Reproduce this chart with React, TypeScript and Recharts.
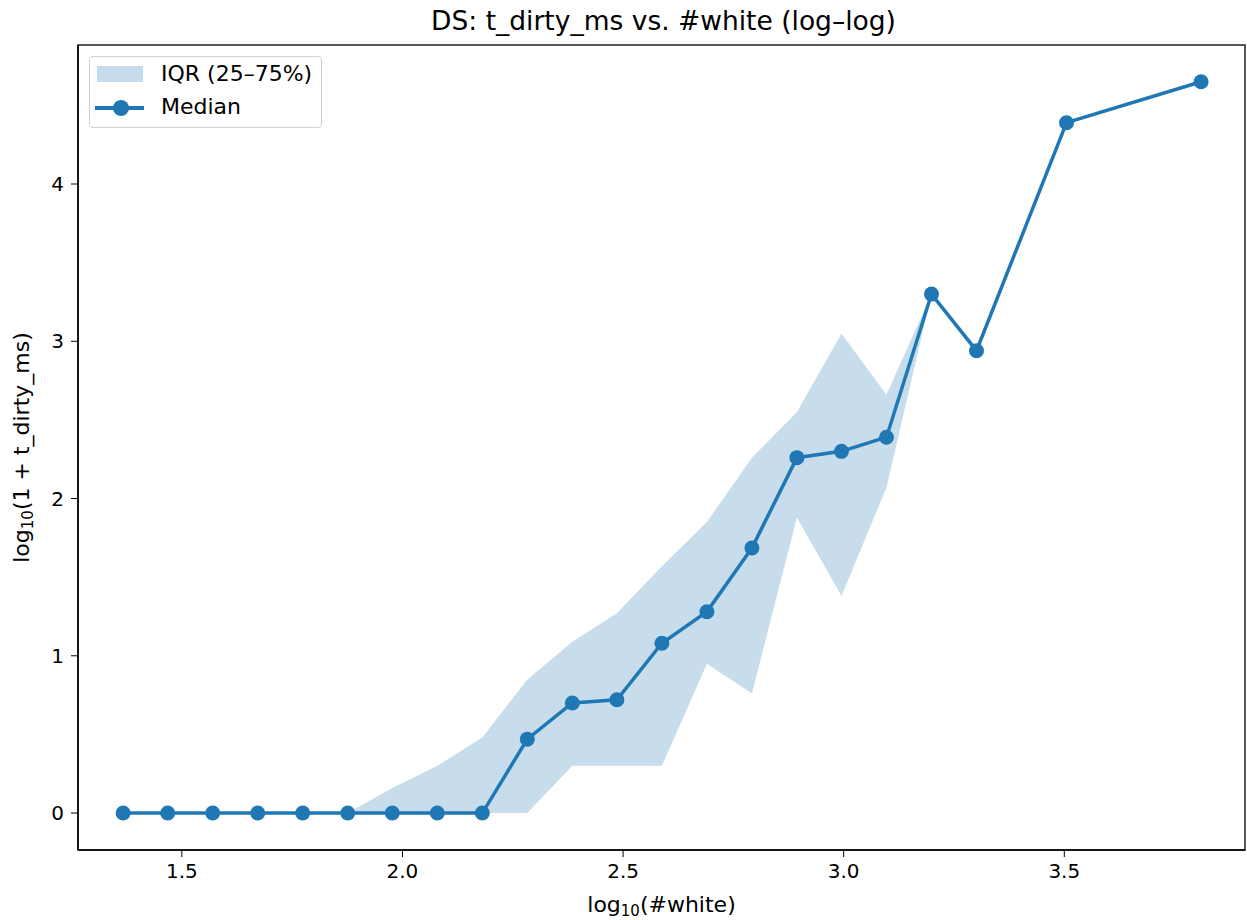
import React from 'react';
import { ComposedChart, Area, Line, XAxis, YAxis, ReferenceArea, Label } from 'recharts';

// log10(#white) bin positions
const logWhite = [1.367, 1.468, 1.57, 1.672, 1.774, 1.876, 1.977, 2.079, 2.181, 2.283, 2.385, 2.486, 2.588, 2.69, 2.792, 2.894, 2.995, 3.097, 3.199, 3.301, 3.505, 3.81];
const medianVals = [0, 0, 0, 0, 0, 0, 0, 0, 0, 0.47, 0.7, 0.72, 1.08, 1.28, 1.685, 2.26, 2.3, 2.39, 3.3, 2.94, 4.39, 4.65];
const q25Vals = [0, 0, 0, 0, 0, 0, 0, 0, 0, 0, 0.3, 0.3, 0.3, 0.95, 0.76, 1.88, 1.38, 2.07, 3.3, 2.94, 4.39, 4.65];
const q75Vals = [0, 0, 0, 0, 0, 0, 0.16, 0.3, 0.48, 0.85, 1.09, 1.27, 1.57, 1.85, 2.26, 2.55, 3.05, 2.66, 3.3, 2.94, 4.39, 4.65];

const xTicks = [1.5, 2.0, 2.5, 3.0, 3.5];
const yTicks = [0, 1, 2, 3, 4];

const X_DOMAIN: [number, number] = [1.2647, 3.9095];
const Y_DOMAIN: [number, number] = [-0.235, 4.884];

const BLUE = '#1f77b4';
const BAND = '#c6dbec';
const FONT = '"DejaVu Sans", sans-serif';
const FS = 20;
const LFS = 22;

const data = logWhite.map((x, i) => ({
  x,
  median: medianVals[i],
  iqr: [q25Vals[i], q75Vals[i]],
}));

const XLabel = ({ viewBox }: any) => {
  const cx = viewBox.x + viewBox.width / 2;
  return (
    <text x={cx} y={912} textAnchor="middle" fontSize={LFS} fontFamily={FONT} fill="#000">
      log<tspan fontSize={15} dy={4}>10</tspan>
      <tspan dy={-4}>(#white)</tspan>
    </text>
  );
};

const YLabel = ({ viewBox }: any) => {
  const cy = viewBox.y + viewBox.height / 2;
  return (
    <text
      x={29}
      y={cy}
      transform={`rotate(-90, 29, ${cy})`}
      textAnchor="middle"
      fontSize={LFS}
      fontFamily={FONT}
      fill="#000"
    >
      log<tspan fontSize={15} dy={4}>10</tspan>
      <tspan dy={-4}>(1 + t_dirty_ms)</tspan>
    </text>
  );
};

const Legend = () => (
  <div
    style={{
      position: 'absolute',
      left: 89,
      top: 56,
      width: 231,
      height: 70,
      border: '1.5px solid #d0d0d0',
      borderRadius: 4,
      background: 'rgba(255,255,255,0.8)',
      fontFamily: FONT,
      fontSize: LFS,
      color: '#000',
    }}
  >
    <div style={{ position: 'absolute', left: 7, top: 9, width: 46, height: 16, background: BAND }} />
    <div style={{ position: 'absolute', left: 71, top: 4, lineHeight: '26px' }}>IQR (25–75%)</div>
    <div style={{ position: 'absolute', left: 5, top: 49, width: 49, height: 3.5, background: BLUE }} />
    <div
      style={{
        position: 'absolute',
        left: 23,
        top: 43,
        width: 16,
        height: 16,
        borderRadius: '50%',
        background: BLUE,
      }}
    />
    <div style={{ position: 'absolute', left: 71, top: 37, lineHeight: '26px' }}>Median</div>
  </div>
);

const App: React.FC = () => {
  return (
    <div style={{ position: 'absolute', left: 0, top: 0, width: 1247, height: 920, background: '#fff' }}>
      <div
        style={{
          position: 'absolute',
          left: 0,
          top: 6,
          width: 1327,
          textAlign: 'center',
          fontFamily: FONT,
          fontSize: 26.5,
          lineHeight: '30px',
          color: '#000',
        }}
      >
        DS: t_dirty_ms vs. #white (log–log)
      </div>
      <ComposedChart
        width={1247}
        height={920}
        data={data}
        margin={{ top: 45, right: 2, bottom: 20, left: 18 }}
        style={{ fontFamily: FONT }}
      >
        <XAxis
          dataKey="x"
          type="number"
          domain={X_DOMAIN}
          ticks={xTicks}
          tickFormatter={(v: number) => v.toFixed(1)}
          allowDataOverflow
          height={50}
          tickSize={7}
          tickLine={{ stroke: '#000' }}
          axisLine={{ stroke: '#000', strokeWidth: 1.5 }}
          tick={{ fill: '#000', fontSize: FS, fontFamily: FONT }}
          tickMargin={7}
        >
          <Label content={<XLabel />} />
        </XAxis>
        <YAxis
          type="number"
          domain={Y_DOMAIN}
          ticks={yTicks}
          allowDataOverflow
          width={60}
          tickSize={7}
          tickLine={{ stroke: '#000' }}
          axisLine={{ stroke: '#000', strokeWidth: 1.5 }}
          tick={{ fill: '#000', fontSize: FS, fontFamily: FONT }}
          tickMargin={7}
        >
          <Label content={<YLabel />} />
        </YAxis>
        <Area
          dataKey="iqr"
          type="linear"
          stroke="none"
          fill={BLUE}
          fillOpacity={0.25}
          isAnimationActive={false}
          dot={false}
          activeDot={false}
        />
        <Line
          dataKey="median"
          type="linear"
          stroke={BLUE}
          strokeWidth={3.5}
          dot={{ r: 7.5, fill: BLUE, stroke: BLUE, strokeWidth: 0 }}
          activeDot={false}
          isAnimationActive={false}
        />
        <ReferenceArea
          x1={X_DOMAIN[0]}
          x2={X_DOMAIN[1]}
          y1={Y_DOMAIN[0]}
          y2={Y_DOMAIN[1]}
          fill="none"
          stroke="#222"
          strokeWidth={1.5}
          ifOverflow="visible"
        />
      </ComposedChart>
      <Legend />
    </div>
  );
};

export default App;
